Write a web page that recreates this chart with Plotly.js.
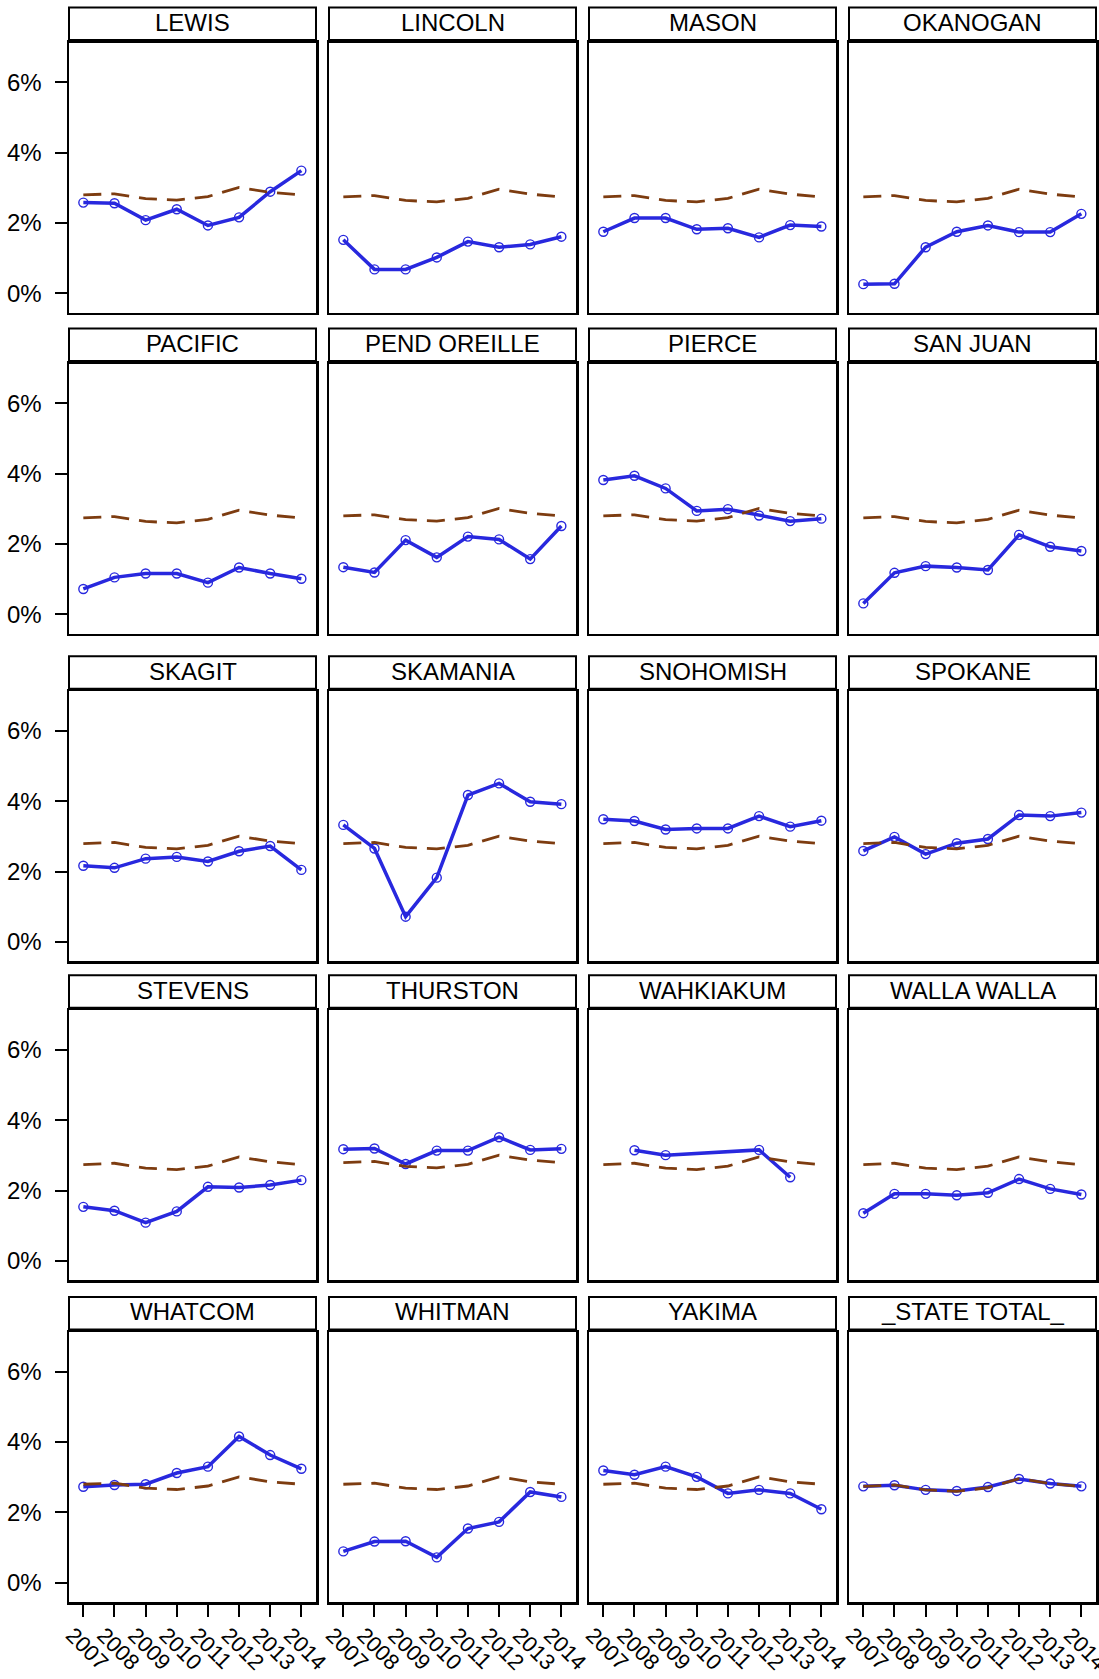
<!DOCTYPE html>
<html>
<head>
<meta charset="utf-8">
<script src="https://cdn.plot.ly/plotly-3.0.1.min.js"></script>
<style>
html,body{margin:0;padding:0;background:#ffffff;}
#chart{width:1099px;height:1679px;}
</style>
</head>
<body>
<div id="chart"></div>
<script>
// ---------------- data ----------------
const years = [2007, 2008, 2009, 2010, 2011, 2012, 2013, 2014];
const yearLabels = ["2007", "2008", "2009", "2010", "2011", "2012", "2013", "2014"];
const yTickValues = [0, 2, 4, 6];
const yTickLabels = ["0%", "2%", "4%", "6%"];

const counties = ["LEWIS", "LINCOLN", "MASON", "OKANOGAN",
                  "PACIFIC", "PEND OREILLE", "PIERCE", "SAN JUAN",
                  "SKAGIT", "SKAMANIA", "SNOHOMISH", "SPOKANE",
                  "STEVENS", "THURSTON", "WAHKIAKUM", "WALLA WALLA",
                  "WHATCOM", "WHITMAN", "YAKIMA", "_STATE TOTAL_"];

const lewis       = [2.58, 2.56, 2.08, 2.39, 1.93, 2.16, 2.89, 3.49];
const lincoln     = [1.52, 0.68, 0.68, 1.02, 1.47, 1.31, 1.39, 1.61];
const mason       = [1.75, 2.14, 2.14, 1.82, 1.85, 1.59, 1.94, 1.90];
const okanogan    = [0.26, 0.27, 1.31, 1.75, 1.93, 1.74, 1.74, 2.26];
const pacific     = [0.72, 1.05, 1.16, 1.16, 0.90, 1.33, 1.16, 1.01];
const pendOreille = [1.34, 1.19, 2.11, 1.62, 2.21, 2.13, 1.57, 2.51];
const pierce      = [3.82, 3.94, 3.58, 2.94, 2.99, 2.81, 2.65, 2.72];
const sanJuan     = [0.31, 1.18, 1.37, 1.33, 1.26, 2.26, 1.92, 1.80];
const skagit      = [2.17, 2.11, 2.37, 2.42, 2.29, 2.58, 2.73, 2.05];
const skamania    = [3.33, 2.66, 0.72, 1.83, 4.18, 4.51, 3.99, 3.92];
const snohomish   = [3.49, 3.44, 3.20, 3.23, 3.23, 3.58, 3.28, 3.45];
const spokane     = [2.59, 2.99, 2.50, 2.81, 2.93, 3.61, 3.58, 3.68];
const stevens     = [1.54, 1.43, 1.09, 1.41, 2.11, 2.09, 2.16, 2.30];
const thurston    = [3.18, 3.20, 2.76, 3.14, 3.14, 3.52, 3.16, 3.19];
const wahkiakum   = [null, 3.15, 3.01, null, null, 3.16, 2.38, null];
const wallaWalla  = [1.36, 1.91, 1.91, 1.87, 1.94, 2.33, 2.05, 1.89];
const whatcom     = [2.73, 2.78, 2.80, 3.12, 3.30, 4.16, 3.63, 3.24];
const whitman     = [0.89, 1.17, 1.18, 0.72, 1.54, 1.73, 2.58, 2.44];
const yakima      = [3.19, 3.07, 3.30, 3.01, 2.54, 2.64, 2.54, 2.09];
const stateTotal  = [2.74, 2.77, 2.64, 2.61, 2.72, 2.95, 2.82, 2.74];

// state reference (dashed) lines as drawn in the panels
const stateRefLow  = [2.74, 2.78, 2.64, 2.60, 2.70, 2.96, 2.82, 2.74];
const stateRefHigh = [2.80, 2.83, 2.69, 2.65, 2.75, 3.01, 2.87, 2.80];

const countySeries = [lewis, lincoln, mason, okanogan,
                      pacific, pendOreille, pierce, sanJuan,
                      skagit, skamania, snohomish, spokane,
                      stevens, thurston, wahkiakum, wallaWalla,
                      whatcom, whitman, yakima, stateTotal];
const refSeries = [stateRefHigh, stateRefLow, stateRefLow, stateRefLow,
                   stateRefLow, stateRefHigh, stateRefHigh, stateRefLow,
                   stateRefHigh, stateRefHigh, stateRefHigh, stateRefHigh,
                   stateRefLow, stateRefHigh, stateRefLow, stateRefLow,
                   stateRefHigh, stateRefHigh, stateRefHigh, stateRefLow];

// ---------------- layout geometry (pixels) ----------------
const W = 1099, H = 1679;
const colLeft0 = 69, colStep = 260, panelW = 247;
const panelBottoms = [312.6, 633.6, 961.3, 1280.3, 1602];
const panelH = 270;
const FONT = "Liberation Sans, Arial, sans-serif";
const BLUE = "rgb(40,40,222)";
const BROWN = "rgb(125,60,16)";

const traces = [];
const layout = {
  width: W, height: H,
  margin: {l: 0, r: 0, t: 0, b: 0, pad: 0},
  paper_bgcolor: "#ffffff",
  plot_bgcolor: "#ffffff",
  showlegend: false,
  font: {family: FONT, size: 24, color: "#000000"},
  shapes: [],
  annotations: []
};

for (let r = 0; r < 5; r++) {
  for (let c = 0; c < 4; c++) {
    const k = r * 4 + c;
    const n = k + 1;
    const xa = "x" + (n === 1 ? "" : n);
    const ya = "y" + (n === 1 ? "" : n);
    const left = colLeft0 + c * colStep;
    const right = left + panelW;
    const bottom = panelBottoms[r];
    const top = bottom - panelH;

    const isBottom = (r === 4);
    const isLeft = (c === 0);

    layout["xaxis" + (n === 1 ? "" : n)] = {
      domain: [left / W, right / W],
      anchor: ya,
      range: [2006.54, 2014.47],
      showgrid: false, zeroline: false,
      showline: true, mirror: true, linecolor: "#000000", linewidth: 2.5,
      tickmode: "array", tickvals: years, ticktext: yearLabels,
      ticks: isBottom ? "outside" : "",
      ticklen: 12, tickwidth: 2, tickcolor: "#000000",
      showticklabels: isBottom,
      tickangle: 45,
      ticklabelshift: -11,
      ticklabelstandoff: -3,
      ticklabeloverflow: "allow",
      tickfont: {family: FONT, size: 22, color: "#000000"},
      fixedrange: true
    };
    layout["yaxis" + (n === 1 ? "" : n)] = {
      domain: [1 - bottom / H, 1 - top / H],
      anchor: xa,
      range: [-0.549, 7.13],
      showgrid: false, zeroline: false,
      showline: true, mirror: true, linecolor: "#000000", linewidth: 2.5,
      tickmode: "array", tickvals: yTickValues, ticktext: yTickLabels,
      ticks: isLeft ? "outside" : "",
      ticklen: 12, tickwidth: 2, tickcolor: "#000000",
      showticklabels: isLeft,
      ticklabelstandoff: 8,
      tickfont: {family: FONT, size: 24, color: "#000000"},
      fixedrange: true
    };

    // strip
    const stripTop = top - 35;
    const stripBottom = top - 2.5;
    layout.shapes.push({
      type: "rect", xref: "paper", yref: "paper",
      x0: left / W, x1: right / W,
      y0: 1 - stripBottom / H, y1: 1 - stripTop / H,
      line: {color: "#000000", width: 2},
      fillcolor: "#ffffff"
    });
    layout.annotations.push({
      xref: "paper", yref: "paper",
      x: (left + right) / 2 / W, y: 1 - ((stripTop + stripBottom) / 2 - 1.5) / H,
      xanchor: "center", yanchor: "middle",
      text: counties[k], showarrow: false,
      font: {family: FONT, size: 24, color: "#000000"}
    });

    // county series
    traces.push({
      type: "scatter", mode: "lines+markers",
      x: years, y: countySeries[k],
      xaxis: xa, yaxis: ya,
      connectgaps: true,
      line: {color: BLUE, width: 3.5},
      marker: {symbol: "circle-open", size: 9, color: BLUE, line: {width: 1.4, color: BLUE}},
      hoverinfo: "skip"
    });
    // state reference
    traces.push({
      type: "scatter", mode: "lines",
      x: years, y: refSeries[k],
      xaxis: xa, yaxis: ya,
      line: {color: BROWN, width: 2.8, dash: "18px,10px"},
      hoverinfo: "skip"
    });
  }
}

Plotly.newPlot("chart", traces, layout, {displayModeBar: false, staticPlot: true});
</script>
</body>
</html>
